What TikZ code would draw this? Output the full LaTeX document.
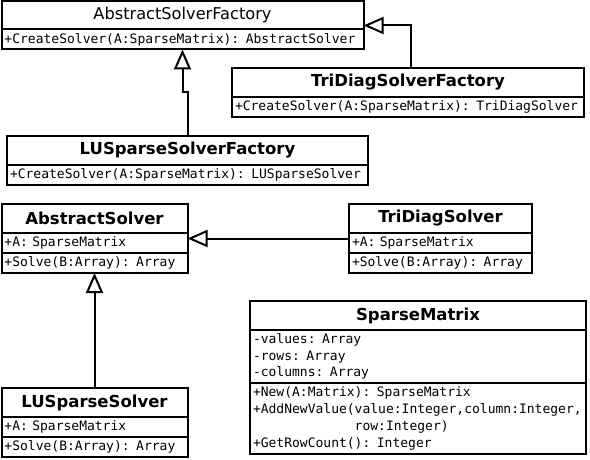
\documentclass[tikz,border=0pt]{standalone}
\usepackage{fontspec}
\setmainfont{DejaVu Sans}
\setmonofont{DejaVu Sans Mono}
\usetikzlibrary{arrows.meta,fit}

\tikzset{
  box/.style={draw, line width=2pt, inner sep=0pt, outer sep=0pt, anchor=north west},
  classname/.style={box, minimum height=29pt, font=\fontsize{16.5}{19}\selectfont\bfseries},
  abstractname/.style={box, minimum height=28pt, font=\fontsize{16.2}{19}\selectfont},
  members/.style={box, inner xsep=3pt, align=left, font=\fontsize{13}{16.7}\selectfont\ttfamily},
  whole/.style={fit=#1, inner sep=0pt, outer sep=0pt},
  inherit/.style={draw, line width=2pt, -{Triangle[open, length=20pt, width=17pt]}},
}

\begin{document}
\begin{tikzpicture}[x=1pt, y=-1pt]
\useasboundingbox[fill=white] (0,0) rectangle (590,460);

% factories
\node[abstractname, minimum width=362pt] (asfT) at (1.5,1.5) {AbstractSolverFactory};
\node[members, text width=356pt, minimum height=20pt] (asfM) at (asfT.south west) {+CreateSolver(A:SparseMatrix): AbstractSolver};
\node[whole={(asfT)(asfM)}] (asf) {};

\node[classname, minimum width=352pt] (tdsfT) at (232,68) {TriDiagSolverFactory};
\node[members, text width=346pt, minimum height=20pt] (tdsfM) at (tdsfT.south west) {+CreateSolver(A:SparseMatrix): TriDiagSolver};
\node[whole={(tdsfT)(tdsfM)}] (tdsf) {};

\node[classname, minimum width=361pt] (lusfT) at (7,136) {LUSparseSolverFactory};
\node[members, text width=355pt, minimum height=20pt] (lusfM) at (lusfT.south west) {+CreateSolver(A:SparseMatrix): LUSparseSolver};
\node[whole={(lusfT)(lusfM)}] (lusf) {};

% solvers
\node[classname, minimum width=186pt] (asT) at (1.5,204) {AbstractSolver};
\node[members, text width=180pt, minimum height=20pt] (asA) at (asT.south west) {+A: SparseMatrix};
\node[members, text width=180pt, minimum height=20pt] (asM) at (asA.south west) {+Solve(B:Array): Array};
\node[whole={(asT)(asM)}] (as) {};

\node[classname, minimum width=183pt] (tdsT) at (349,204) {TriDiagSolver};
\node[members, text width=177pt, minimum height=20pt] (tdsA) at (tdsT.south west) {+A: SparseMatrix};
\node[members, text width=177pt, minimum height=20pt] (tdsM) at (tdsA.south west) {+Solve(B:Array): Array};
\node[whole={(tdsT)(tdsM)}] (tds) {};

\node[classname, minimum width=186pt] (lusT) at (1.5,388) {LUSparseSolver};
\node[members, text width=180pt, minimum height=20pt] (lusA) at (lusT.south west) {+A: SparseMatrix};
\node[members, text width=180pt, minimum height=20pt] (lusM) at (lusA.south west) {+Solve(B:Array): Array};
\node[whole={(lusT)(lusM)}] (lus) {};

% matrix class
\node[classname, minimum width=336pt] (smT) at (250,301) {SparseMatrix};
\node[members, text width=330pt, minimum height=53pt] (smA) at (smT.south west)
  {-values: Array\\-rows: Array\\-columns: Array};
\node[members, text width=330pt, minimum height=71pt] (smM) at (smA.south west)
  {+New(A:Matrix): SparseMatrix\\+AddNewValue(value:Integer,column:Integer,\\\phantom{+AddNewValue(}row:Integer)\\+GetRowCount(): Integer};

% generalisations
\draw[inherit] (lusf.north) -- ++(0,-44) -| (asf.south);
\draw[inherit] ([xshift=3pt]tdsf.north) |- (asf.east);
\draw[inherit] (tds.west) -- (as.east);
\draw[inherit] (lus.north) -- (as.south);
\end{tikzpicture}
\end{document}
